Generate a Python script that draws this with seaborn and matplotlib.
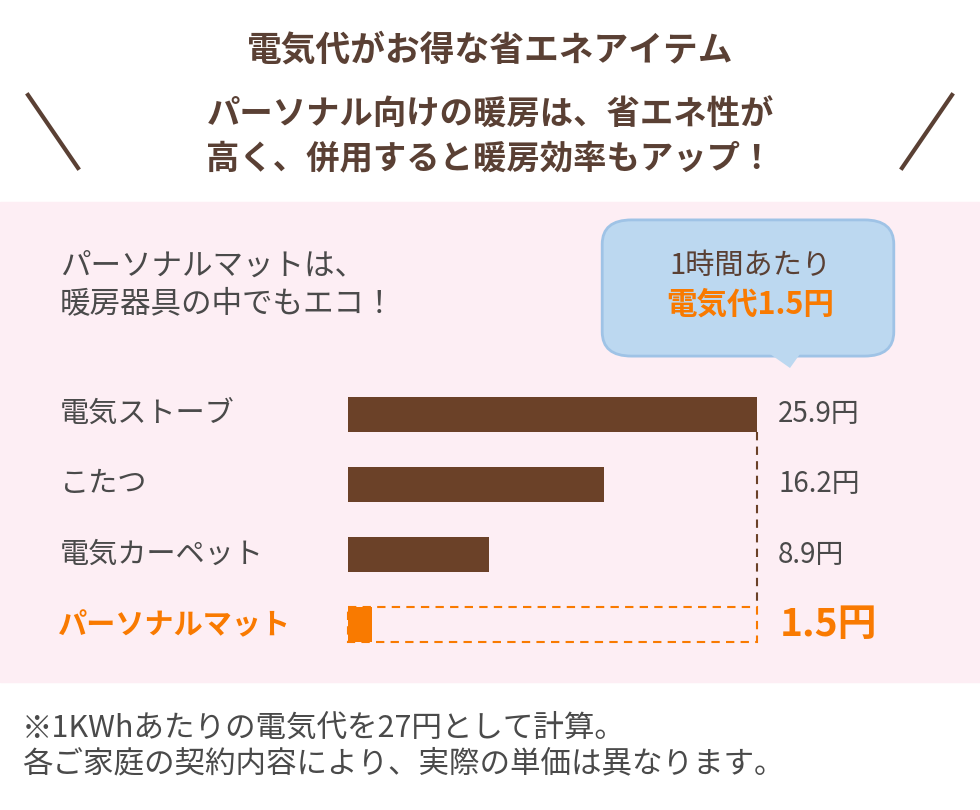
import matplotlib.pyplot as plt
import matplotlib.patches as mpatches
import matplotlib.lines as mlines
import seaborn as sns
import pandas as pd

plt.rcParams['font.family'] = 'Noto Sans CJK JP'

categories = ['電気ストーブ', 'こたつ', '電気カーペット', 'パーソナルマット']
costs = [25.9, 16.2, 8.9, 1.5]
value_labels = ['25.9円', '16.2円', '8.9円', '1.5円']

BROWN = '#6b4128'
ORANGE = '#f97a00'
TEXT = '#5a4034'
PINK = '#fdeef4'

W, H = 980, 810
fig = plt.figure(figsize=(W / 100, H / 100), dpi=100)
fig.patch.set_facecolor('white')

def fx(px):
    return px / W

def fy(py):
    return 1 - py / H

# pink band (behind the axes)
fig.patches.append(mpatches.Rectangle((0, fy(682)), 1, (682 - 202) / H,
                                      transform=fig.transFigure, color=PINK, zorder=-5))

# header
fig.text(0.5, fy(50), '電気代がお得な省エネアイテム', ha='center', va='center',
         fontsize=25, fontweight='bold', color=TEXT)
fig.text(0.5, fy(137), 'パーソナル向けの暖房は、省エネ性が\n高く、併用すると暖房効率もアップ！',
         ha='center', va='center', fontsize=24, fontweight='bold', color=TEXT, linespacing=1.4)
fig.lines.append(mlines.Line2D([fx(28), fx(78)], [fy(95), fy(168)], transform=fig.transFigure,
                               color=TEXT, lw=3))
fig.lines.append(mlines.Line2D([fx(952), fx(902)], [fy(95), fy(168)], transform=fig.transFigure,
                               color=TEXT, lw=3))

# subtitle
fig.text(fx(60), fy(285), 'パーソナルマットは、\n暖房器具の中でもエコ！', ha='left', va='center',
         fontsize=22, color='#4a4a4a', linespacing=1.3)

# bubble
bubble = mpatches.FancyBboxPatch((fx(612), fy(348)), fx(272), (348 - 228) / H,
                                 boxstyle='round,pad=0.01,rounding_size=0.03',
                                 transform=fig.transFigure, facecolor='#bcd8f0',
                                 edgecolor='#9fc3e6', lw=2, zorder=1)
fig.patches.append(bubble)
fig.patches.append(mpatches.Polygon([[fx(770), fy(354)], [fx(800), fy(354)], [fx(790), fy(368)]],
                                    closed=True, transform=fig.transFigure,
                                    facecolor='#bcd8f0', edgecolor='none', zorder=1))
fig.text(fx(750), fy(266), '1時間あたり', ha='center', va='center', fontsize=21, color=TEXT, zorder=2)
fig.text(fx(750), fy(305), '電気代1.5円', ha='center', va='center', fontsize=22,
         fontweight='bold', color=ORANGE, zorder=2)

# bars
df = pd.DataFrame({'item': categories, 'cost': costs})
ax = fig.add_axes([fx(348), fy(660), fx(757 - 348), (660 - 379) / H], zorder=3)
ax.set_facecolor('none')
sns.barplot(data=df, x='cost', y='item', orient='h', width=0.5,
            palette=[BROWN, BROWN, BROWN, ORANGE], hue='item', legend=False,
            saturation=1, ax=ax)
ax.set_xlim(0, costs[0])
ax.set_ylim(3.5, -0.5)
ax.axis('off')

# dashed outline around personal mat, and vertical dashed line
ax.add_patch(mpatches.Rectangle((0, 3 - 0.25), costs[0], 0.5, fill=False,
                                edgecolor=ORANGE, ls=(0, (4, 3)), lw=1.5, clip_on=False))
ax.plot([costs[0], costs[0]], [0.25, 2.75], color=BROWN, ls=(0, (4, 3)), lw=1.5, clip_on=False)

for i, (cat, lab) in enumerate(zip(categories, value_labels)):
    y = fy(414 + i * 70.3)
    if i == 3:
        fig.text(fx(58), y, cat, ha='left', va='center', fontsize=21,
                 fontweight='bold', color=ORANGE)
        fig.text(fx(780), y, lab, ha='left', va='center', fontsize=28,
                 fontweight='bold', color=ORANGE)
    else:
        fig.text(fx(60), y, cat, ha='left', va='center', fontsize=21, color='#4a4a4a')
        fig.text(fx(778), y, lab, ha='left', va='center', fontsize=20, color='#4a4a4a')

# footnote
fig.text(fx(22), fy(746), '※1KWhあたりの電気代を27円として計算。\n各ご家庭の契約内容により、実際の単価は異なります。',
         ha='left', va='center', fontsize=22, color='#4a4a4a', linespacing=1.2)

fig.savefig('out.png', dpi=100)
